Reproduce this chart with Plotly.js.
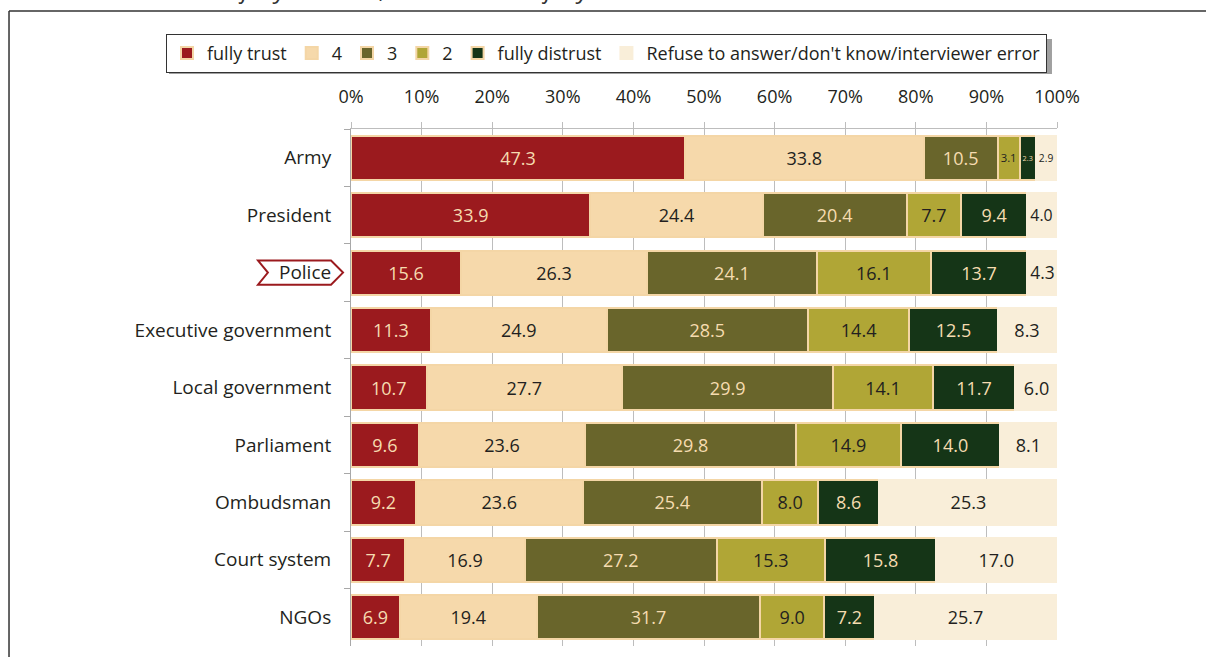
<!DOCTYPE html>
<html>
<head>
<meta charset="utf-8">
<script src="https://cdn.plot.ly/plotly-3.0.1.min.js"></script>
<style>
  body { margin: 0; background: #fff; }
  #chart { width: 1206px; height: 657px; }
</style>
</head>
<body>
<div id="chart"></div>
<script>
var institutions = ['Army', 'President', 'Police', 'Executive government', 'Local government',
    'Parliament', 'Ombudsman', 'Court system', 'NGOs'];

var fullyTrust    = [47.3, 33.9, 15.6, 11.3, 10.7, 9.6, 9.2, 7.7, 6.9];
var four          = [33.8, 24.4, 26.3, 24.9, 27.7, 23.6, 23.6, 16.9, 19.4];
var three         = [10.5, 20.4, 24.1, 28.5, 29.9, 29.8, 25.4, 27.2, 31.7];
var two           = [3.1, 7.7, 16.1, 14.4, 14.1, 14.9, 8.0, 15.3, 9.0];
var fullyDistrust = [2.3, 9.4, 13.7, 12.5, 11.7, 14.0, 8.6, 15.8, 7.2];
var refuse        = [2.9, 4.0, 4.3, 8.3, 6.0, 8.1, 25.3, 17.0, 25.7];

var seriesNames = ['fully trust', '4', '3', '2', 'fully distrust',
    'Refuse to answer/don\'t know/interviewer error'];
var tickVals = [0, 10, 20, 30, 40, 50, 60, 70, 80, 90, 100];
var tickText = ['0%', '10%', '20%', '30%', '40%', '50%', '60%', '70%', '80%', '90%', '100%'];

var seriesValues = [fullyTrust, four, three, two, fullyDistrust, refuse];
var fills = ['#9b1a1e', '#f6d9ab', '#69652b', '#b0a636', '#153517', '#f9eed9'];
var textCols = ['#f6dcb0', '#231f20', '#f6dcb0', '#231f20', '#f6dcb0', '#231f20'];
var font = 'Open Sans, sans-serif';

var data = seriesValues.map(function (vals, i) {
    return {
        type: 'bar',
        orientation: 'h',
        name: seriesNames[i],
        y: institutions,
        x: vals,
        text: vals.map(function (v) { return v.toFixed(1); }),
        textposition: 'inside',
        insidetextanchor: 'middle',
        textangle: 0,
        // tiny segments get a smaller label, like the original
        textfont: {family: font, color: textCols[i],
            size: vals.map(function (v) { return v < 3.5 ? 13 : 18; })},
        marker: {color: fills[i], line: {color: i == 5 ? fills[5] : '#f4d6a6', width: 2}},
        hoverinfo: 'skip'
    };
});

var layout = {
    width: 1206,
    height: 657,
    margin: {l: 351, r: 149, t: 129, b: 11, autoexpand: false},
    barmode: 'stack',
    bargap: 0.23,
    paper_bgcolor: '#fff',
    plot_bgcolor: '#fff',
    font: {family: font, size: 18, color: '#231f20'},
    showlegend: true,
    legend: {
        orientation: 'h',
        x: -0.262, xanchor: 'left',
        y: 1.184, yanchor: 'top',
        bgcolor: '#fff',
        bordercolor: '#333',
        borderwidth: 1,
        font: {family: font, size: 18, color: '#231f20'},
        itemwidth: 30,
        traceorder: 'normal'
    },
    xaxis: {
        side: 'top',
        range: [0, 100],
        tickvals: tickVals,
        ticktext: tickText,
        showgrid: true,
        gridcolor: '#bdbdbd',
        gridwidth: 1,
        showline: true,
        linecolor: '#bdbdbd',
        ticks: 'outside',
        ticklen: 6,
        tickcolor: '#bdbdbd',
        ticklabelstandoff: 12,
        zeroline: false,
        fixedrange: true
    },
    yaxis: {
        autorange: 'reversed',
        type: 'category',
        showline: true,
        linecolor: '#a8a8a8',
        ticks: 'outside',
        tickson: 'boundaries',
        ticklen: 6,
        tickcolor: '#a8a8a8',
        showgrid: false,
        tickfont: {size: 19},
        ticklabelstandoff: 15,
        fixedrange: true
    },
    shapes: [
        // page frame
        {type: 'line', xref: 'paper', yref: 'paper', x0: -0.4844, x1: 1.22, y0: 1.2282, y1: 1.2282,
            line: {color: '#333', width: 1.5}},
        {type: 'line', xref: 'paper', yref: 'paper', x0: -0.4844, x1: -0.4844, y0: 1.2282, y1: -0.05,
            line: {color: '#333', width: 1.5}},
        // legend shadow
        {type: 'rect', xref: 'paper', yref: 'paper', x0: -0.2578, x1: 0.9929, y0: 1.1064, y1: 1.1741,
            fillcolor: '#a0a0a0', line: {width: 0}, layer: 'below'},
        // Police marker
        {type: 'path', xref: 'paper', yref: 'y',
            path: 'M -0.1317 1.79 L -0.0283 1.79 L -0.0113 2 L -0.0283 2.21 L -0.1317 2.21 L -0.1177 2 Z',
            fillcolor: '#fff', line: {color: '#9b1a1e', width: 2}, layer: 'below'}
    ],
    annotations: [{
        xref: 'paper', yref: 'paper', x: -0.306, y: 1.272, xanchor: 'left', yanchor: 'middle',
        text: '1 means “fully distrust”, and 5 means “fully trust”.',
        showarrow: false,
        font: {family: font, size: 24, color: '#333', style: 'italic'}
    }]
};

Plotly.newPlot('chart', data, layout, {staticPlot: true, displayModeBar: false});
</script>
</body>
</html>
